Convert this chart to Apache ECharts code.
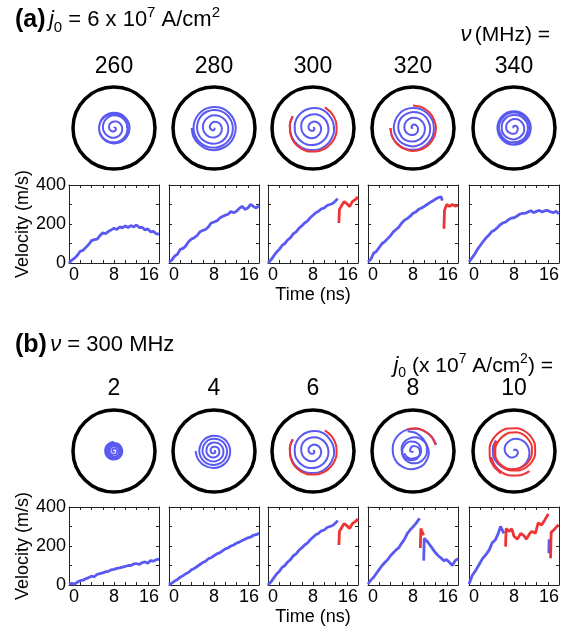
<!DOCTYPE html>
<html><head><meta charset="utf-8">
<script src="https://cdn.jsdelivr.net/npm/echarts@6/dist/echarts.min.js"></script>
<style>html,body{margin:0;padding:0;background:#fff}#c{width:564px;height:628px}</style>
</head><body><div id="c"></div>
<script>
// ---------- tick labels / categories ----------
const timeTickLabels = [0, 8, 16];
const velTickLabels = [0, 200, 400];
const freqLabels = ['260', '280', '300', '320', '340'];
const j0Labels = ['2', '4', '6', '8', '10'];

// ---------- velocity traces [time ns, velocity m/s] ----------
const velA260 = [[0,0],[0.5,15],[1,25],[1.5,40],[2,60],[2.5,65],[3,80],[3.5,95],[4,115],[4.5,120],[5,122],[5.5,140],[6,155],[6.5,150],[7,162],[7.5,170],[8,178],[8.5,172],[9,185],[9.5,180],[10,190],[10.5,182],[11,192],[11.5,185],[12,195],[12.5,182],[13,183],[13.5,170],[14,175],[14.5,160],[15,162],[15.5,150],[16,148]];
const velA280 = [[0,5],[0.5,15],[1,35],[1.5,45],[2,70],[2.5,75],[3,88],[3.5,110],[4,123],[4.5,130],[5,141],[5.5,160],[6,167],[6.5,172],[7,185],[7.5,205],[8,210],[8.5,216],[9,230],[9.5,238],[10,245],[10.5,250],[11,264],[11.5,258],[12,265],[12.5,280],[13,291],[13.5,275],[14,282],[14.5,300],[15,290],[15.5,282],[16,295]];
const velA300Blue = [[0,0],[0.5,15],[1,35],[1.5,55],[2,70],[2.5,90],[3,100],[3.5,118],[4,130],[4.5,150],[5,160],[5.5,178],[6,190],[6.5,205],[7,215],[7.5,232],[8,245],[8.5,258],[9,265],[9.5,278],[10,282],[10.5,295],[11,300],[11.5,305],[12,318],[12.4,330]];
const velA300Red = [[12.6,205],[12.7,275],[13,290],[13.5,315],[14,305],[14.5,290],[15,315],[15.5,325],[16,338]];
const velA320Blue = [[0,5],[0.5,20],[1,50],[1.5,60],[2,80],[2.5,100],[3,110],[3.5,125],[4,140],[4.5,160],[5,172],[5.5,185],[6,205],[6.5,220],[7,228],[7.5,240],[8,255],[8.5,262],[9,275],[9.5,282],[10,290],[10.5,300],[11,310],[11.5,318],[12,328],[12.5,335],[13,340],[13.2,320]];
const velA320Red = [[13.5,176],[13.6,270],[14,300],[14.5,290],[15,300],[15.5,292],[16,295]];
const velA340 = [[0,5],[0.5,25],[1,45],[1.5,70],[2,90],[2.5,110],[3,128],[3.5,142],[4,160],[4.5,168],[5,180],[5.5,195],[6,205],[6.5,210],[7,222],[7.5,230],[8,232],[8.5,240],[9,250],[9.5,255],[10,255],[10.5,262],[11,268],[11.5,258],[12,265],[12.5,270],[13,262],[13.5,268],[14,270],[14.5,262],[15,258],[15.5,265],[16,252]];
const velB2 = [[0,5],[0.5,8],[1,5],[1.5,15],[2,22],[2.5,25],[3,32],[3.5,38],[4,45],[4.5,42],[5,55],[5.5,58],[6,62],[6.5,68],[7,70],[7.5,78],[8,80],[8.5,85],[9,88],[9.5,92],[10,95],[10.5,100],[11,100],[11.5,108],[12,110],[12.5,105],[13,115],[13.5,118],[14,112],[14.5,125],[15,122],[15.5,130],[16,132]];
const velB4 = [[0,0],[0.5,10],[1,20],[1.5,28],[2,40],[2.5,48],[3,58],[3.5,65],[4,78],[4.5,85],[5,95],[5.5,105],[6,115],[6.5,122],[7,135],[7.5,140],[8,150],[8.5,160],[9,165],[9.5,175],[10,185],[10.5,190],[11,200],[11.5,205],[12,215],[12.5,220],[13,228],[13.5,235],[14,242],[14.5,245],[15,255],[15.5,258],[16,265]];
const velB8Blue1 = [[0,5],[0.5,25],[1,40],[1.5,60],[2,80],[2.5,100],[3,115],[3.5,130],[4,150],[4.5,165],[5,180],[5.5,192],[6,215],[6.5,235],[7,265],[7.5,283],[8,298],[8.5,315],[9,335],[9.2,342]];
const velB8Red = [[9.3,190],[9.4,290],[9.6,275],[9.9,255]];
const velB8Blue2 = [[9.9,125],[10,240],[10.5,225],[11,205],[11.5,185],[12,165],[12.5,150],[13,138],[13.5,125],[14,130],[14.5,115],[15,100],[15.5,125],[16,135]];
const velB10Blue1 = [[0,5],[0.3,15],[0.6,50],[1.2,75],[1.8,105],[2.4,135],[3,155],[3.6,180],[4.1,215],[4.7,232],[5.2,265],[5.6,300],[5.9,283],[6.2,265]];
const velB10Red1 = [[6.5,197],[6.6,290],[7.1,275],[7.6,288],[8,250],[8.6,235],[9.2,265],[9.8,252],[10.2,235],[10.8,265],[11.2,275],[11.8,265],[12.3,318],[12.9,308],[13.5,335],[14.1,365]];
const velB10Blue2 = [[14.2,163],[14.25,235]];
const velB10Red2 = [[14.5,137],[14.6,270],[15.1,283],[15.9,310]];

// ---------- core trajectories: radius (fraction of disk radius) every 22.5 degrees ----------
const spA260 = [0,.01,.02,.03,.04,.05,.06,.07,.08,.09,.10,.11,.12,.13,.14,.15,
  .16,.17,.18,.19,.20,.21,.22,.23,.24,.245,.25,.26,.27,.28,.29,.30,
  .31,.315,.32,.325,.33,.335,.34,.345,.35,.355,.36,.36,.365,.365,.37,.37,
  .37,.375,.375,.38,.38,.38,.38,.38,.375,.375,.37,.37,.365,.36,.355,.35,
  .345,.34,.335,.33,.32];
const spA280 = [0,.01,.02,.03,.05,.06,.07,.08,.10,.11,.12,.13,.15,.16,.17,.18,
  .19,.20,.21,.22,.23,.24,.25,.26,.27,.28,.29,.30,.31,.32,.33,.34,
  .35,.36,.37,.38,.385,.39,.40,.41,.415,.42,.43,.435,.44,.445,.45,.455,
  .46,.465,.47,.475,.48,.485,.49,.495,.50,.50,.505,.51,.515,.52,.52,.525,
  .53,.53,.535,.535,.54,.54,.54,.545,.545];
const spA300Blue = [0,.01,.02,.03,.04,.05,.06,.07,.08,.09,.10,.11,.12,.13,.14,.16,
  .17,.18,.19,.20,.21,.22,.24,.25,.26,.27,.28,.29,.31,.32,.33,.34,
  .35,.36,.37,.38,.39,.40,.41,.42,.43,.44,.45,.45,.46,.47,.48,.49,
  .50,.50,.51,.52,.52,.53,.54,.54,.55,.56,.56,.57,.57];
const spA300Red = [.57,.57,.57,.58,.58,.58,.58,.58,.58,.58,.58,.58,.58];
const spA320Blue = [0,.01,.02,.04,.05,.06,.08,.09,.10,.11,.12,.13,.15,.16,.17,.18,
  .19,.20,.21,.22,.23,.24,.25,.26,.27,.28,.29,.30,.31,.32,.33,.34,
  .35,.35,.36,.37,.38,.38,.39,.40,.41,.41,.42,.43,.43,.44,.45,.45,
  .46,.46,.47,.47,.48,.49,.49,.50,.50,.51,.51,.52,.52,.53,.53,.54,
  .54,.55,.55];
const spA320Red = [.55,.55,.55,.55,.56,.56,.56,.56,.56,.55,.55,.55,.55];
const spA340 = [0,.01,.02,.04,.05,.06,.07,.08,.09,.10,.11,.13,.14,.15,.16,.18,
  .19,.20,.20,.21,.22,.23,.23,.24,.25,.26,.26,.27,.28,.28,.29,.30,
  .30,.31,.31,.32,.32,.33,.33,.34,.34,.34,.35,.35,.35,.36,.36,.36,
  .37,.37,.37,.38,.38,.38,.38,.39,.39,.39,.39,.40,.40,.40,.40,.40,
  .405,.405,.41,.41,.41,.41,.41,.41,.41,.41,.41,.41,.41,.41,.405,.405,
  .40,.40,.40,.40,.395,.395,.39];
const spB2 = [0,.005,.01,.015,.02,.025,.03,.035,.04,.045,.05,.055,.06,.065,.07,.075,
  .08,.08,.085,.09,.09,.095,.10,.10,.105,.11,.11,.115,.12,.12,.125,.13,
  .13,.135,.14,.14,.145,.145,.15,.15,.155,.155,.16,.16,.165,.165,.17,.17,
  .17,.175,.175,.18,.18,.185,.185,.19,.19,.19,.195,.195,.195,.20,.20,.20,
  .20,.205,.205,.21,.21,.21,.215,.215,.215,.22,.22,.22,.22];
const spB4 = [0,.01,.015,.02,.03,.035,.04,.05,.055,.06,.07,.075,.08,.09,.095,.10,
  .105,.11,.12,.125,.13,.14,.145,.15,.16,.165,.17,.18,.185,.19,.20,.205,
  .21,.215,.22,.225,.23,.24,.245,.25,.255,.26,.27,.275,.28,.285,.29,.30,
  .30,.305,.31,.315,.32,.325,.33,.335,.34,.345,.35,.355,.36,.36,.365,.37,
  .375,.38,.385,.39,.395,.40,.405,.41,.415,.42,.43,.44,.45];
const spB8Blue1 = [0,.01,.03,.04,.05,.07,.08,.09,.11,.12,.13,.15,.16,.17,.19,.20,
  .22,.23,.24,.26,.27,.28,.30,.31,.32,.34,.35,.36,.37,.39,.40,.42,
  .43,.45,.46,.48,.49,.50,.52,.53,.54,.55,.56,.57,.59];
const spB8Red = [.57,.57,.56,.56,.55];
const spB8Blue2 = [.50,.45,.40,.37,.35,.34,.33,.32,.31,.30,.29,.28,.27,.26,.25,.25,
  .24,.23,.22,.21,.20,.20,.19,.19,.18,.19,.20,.21,.22];
const spB10Blue1 = [0,.02,.04,.05,.07,.09,.11,.12,.14,.16,.18,.19,.21,.23,.25,.26,
  .28,.30,.32,.34,.36,.38,.40,.42,.44,.46,.48,.50,.52,.52,.51];
const spB10Red1 = [.50,.49,.48,.47,.46,.45,.44,.44,.44,.44,.45,.45,.46,.46,.46,.45,
  .45,.46,.47,.48,.48,.48,.49,.50,.51,.52,.53,.54,.55,.56,.57,.58,
  .59,.60,.61,.62,.63];
const spB10Blue2 = [.60,.59,.58];
const spB10Red2 = [.58,.59,.60,.60,.61,.62];

// ---------- panel composition (trace, colour, starting angle in degrees) ----------
const BLUE = '#5a5af2', RED = '#ee3434';
const panels = [
  {vel:[[velA260,BLUE]], sp:[[spA260,BLUE,90]]},
  {vel:[[velA280,BLUE]], sp:[[spA280,BLUE,0]]},
  {vel:[[velA300Blue,BLUE],[velA300Red,RED]], sp:[[spA300Blue,BLUE,60],[spA300Red,RED,150]]},
  {vel:[[velA320Blue,BLUE],[velA320Red,RED]], sp:[[spA320Blue,BLUE,225],[spA320Red,RED,180]]},
  {vel:[[velA340,BLUE]], sp:[[spA340,BLUE,180]]},
  {vel:[[velB2,BLUE]], sp:[[spB2,BLUE,0]]},
  {vel:[[velB4,BLUE]], sp:[[spB4,BLUE,90]]},
  {vel:[[velA300Blue,BLUE],[velA300Red,RED]], sp:[[spA300Blue,BLUE,60],[spA300Red,RED,150]]},
  {vel:[[velB8Blue1,BLUE],[velB8Red,RED],[velB8Blue2,BLUE]], sp:[[spB8Blue1,BLUE,285],[spB8Red,RED,15],[spB8Blue2,BLUE,105]]},
  {vel:[[velB10Blue1,BLUE],[velB10Red1,RED],[velB10Blue2,BLUE],[velB10Red2,RED]], sp:[[spB10Blue1,BLUE,105],[spB10Red1,RED,150],[spB10Blue2,BLUE,240],[spB10Red2,RED,195]]}
];
const SP_STEP = 22.5;

// ---------- layout ----------
const FONT = '"Liberation Sans", Arial, Helvetica, sans-serif';
const plotLefts = [69, 169, 268, 368, 469];
const plotW = 90, plotH = 78;
const rowTops = [185, 507];
const circleY = [128, 451];
const diskR = 41;
const labelY = [67, 389];
const AX = '#222';

const grid = [], xAxis = [], yAxis = [], polar = [], angleAxis = [], radiusAxis = [], series = [];
panels.forEach((p, g) => {
  const row = Math.floor(g / 5), col = g % 5;
  grid.push({left: plotLefts[col], top: rowTops[row], width: plotW, height: plotH, show: false});
  const tick = {show: true, inside: true, length: 3, lineStyle: {color: AX, width: 1}};
  const line = {show: true, onZero: false, lineStyle: {color: AX, width: 1}};
  xAxis.push({gridIndex: g, type: 'value', position: 'bottom', min: 0, max: 16, interval: 2,
    axisLine: line, axisTick: tick, splitLine: {show: false},
    axisLabel: {show: true, margin: 3, color: '#000', fontSize: 18, fontFamily: FONT,
      alignMinLabel: 'left', alignMaxLabel: 'right',
      formatter: v => timeTickLabels.includes(v) ? String(v) : ''},
    name: col === 2 ? 'Time (ns)' : '', nameLocation: 'middle', nameGap: 23,
    nameTextStyle: {color: '#000', fontSize: 18, fontFamily: FONT}});
  xAxis.push({gridIndex: g, type: 'value', position: 'top', min: 0, max: 16, interval: 2,
    axisLine: line, axisTick: tick, splitLine: {show: false}, axisLabel: {show: false}});
  yAxis.push({gridIndex: g, type: 'value', position: 'left', min: 0, max: 400, interval: 100,
    axisLine: line, axisTick: tick, splitLine: {show: false},
    axisLabel: {show: col === 0, margin: 3, color: '#000', fontSize: 18, fontFamily: FONT,
      formatter: v => velTickLabels.includes(v) ? String(v) : ''},
    name: col === 0 ? 'Velocity (m/s)' : '', nameLocation: 'middle', nameGap: 36,
    nameTextStyle: {color: '#000', fontSize: 18, fontFamily: FONT}});
  yAxis.push({gridIndex: g, type: 'value', position: 'right', min: 0, max: 400, interval: 100,
    axisLine: line, axisTick: tick, splitLine: {show: false}, axisLabel: {show: false}});
  p.vel.forEach(([d, c]) => series.push({type: 'line', xAxisIndex: 2 * g, yAxisIndex: 2 * g,
    data: d, showSymbol: false, smooth: false, lineStyle: {color: c, width: 2.8}, silent: true}));

  const cx = plotLefts[col] + plotW / 2;
  polar.push({center: [cx, circleY[row]], radius: diskR});
  angleAxis.push({polarIndex: g, type: 'value', min: 0, max: 360, startAngle: 0, clockwise: false,
    axisLine: {show: true, lineStyle: {color: '#000', width: 3.5}}, axisTick: {show: false},
    axisLabel: {show: false}, splitLine: {show: false}, splitArea: {show: false}});
  radiusAxis.push({polarIndex: g, type: 'value', min: 0, max: 1, axisLine: {show: false},
    axisTick: {show: false}, axisLabel: {show: false}, splitLine: {show: false}, splitArea: {show: false}});
  p.sp.forEach(([r, c, a0]) => {
    const step = c === BLUE ? -SP_STEP : SP_STEP;
    const data = r.map((rv, i) => [rv, (((a0 + i * step) % 360) + 360) % 360]);
    series.push({type: 'line', coordinateSystem: 'polar', polarIndex: g, data, showSymbol: false,
      smooth: 0.3, clip: false, lineStyle: {color: c, width: 2}, silent: true});
  });
});

// ---------- texts ----------
const rich = {
  b: {fontFamily: FONT, fontSize: 25, fontWeight: 'bold', lineHeight: 30, color: '#000'},
  n: {fontFamily: FONT, fontSize: 22, lineHeight: 30, color: '#000'},
  i: {fontFamily: FONT, fontSize: 22, fontStyle: 'italic', lineHeight: 30, color: '#000'},
  sup: {fontFamily: FONT, fontSize: 15, lineHeight: 17, verticalAlign: 'top', color: '#000'},
  sub: {fontFamily: FONT, fontSize: 15, lineHeight: 15, verticalAlign: 'bottom', color: '#000'}
};
const rich2 = {
  n: {fontFamily: FONT, fontSize: 21, lineHeight: 28, color: '#000'},
  i: {fontFamily: FONT, fontSize: 22, fontStyle: 'italic', lineHeight: 28, color: '#000'},
  sup: {fontFamily: FONT, fontSize: 14, lineHeight: 16, verticalAlign: 'top', color: '#000'},
  sub: {fontFamily: FONT, fontSize: 14, lineHeight: 14, verticalAlign: 'bottom', color: '#000'}
};
const graphic = [
  {type: 'text', x: 15, y: 20, style: {text: '{b|(a)} {i|j}{sub|0}{n| = 6 x 10}{sup|7}{n| A/cm}{sup|2}', rich, align: 'left', verticalAlign: 'middle'}},
  {type: 'text', x: 550, y: 35, style: {text: '{i|ν} {n|(MHz) =}', rich: rich2, align: 'right', verticalAlign: 'middle'}},
  {type: 'text', x: 15, y: 345, style: {text: '{b|(b)} {i|ν}{n| = 300 MHz}', rich, align: 'left', verticalAlign: 'middle'}},
  {type: 'text', x: 553, y: 366, style: {text: '{i|j}{sub|0}{n| (x 10}{sup|7}{n| A/cm}{sup|2}{n|) =}', rich: rich2, align: 'right', verticalAlign: 'middle'}}
];
[freqLabels, j0Labels].forEach((labels, row) => labels.forEach((t, col) => {
  graphic.push({type: 'text', x: plotLefts[col] + plotW / 2, y: labelY[row],
    style: {text: t, fontFamily: FONT, fontSize: 23, fill: '#000', align: 'center', verticalAlign: 'middle'}});
}));

const chart = echarts.init(document.getElementById('c'), null, {renderer: 'canvas'});
chart.setOption({animation: false, backgroundColor: '#fff', grid, xAxis, yAxis, polar, angleAxis, radiusAxis, series, graphic});
</script></body></html>
